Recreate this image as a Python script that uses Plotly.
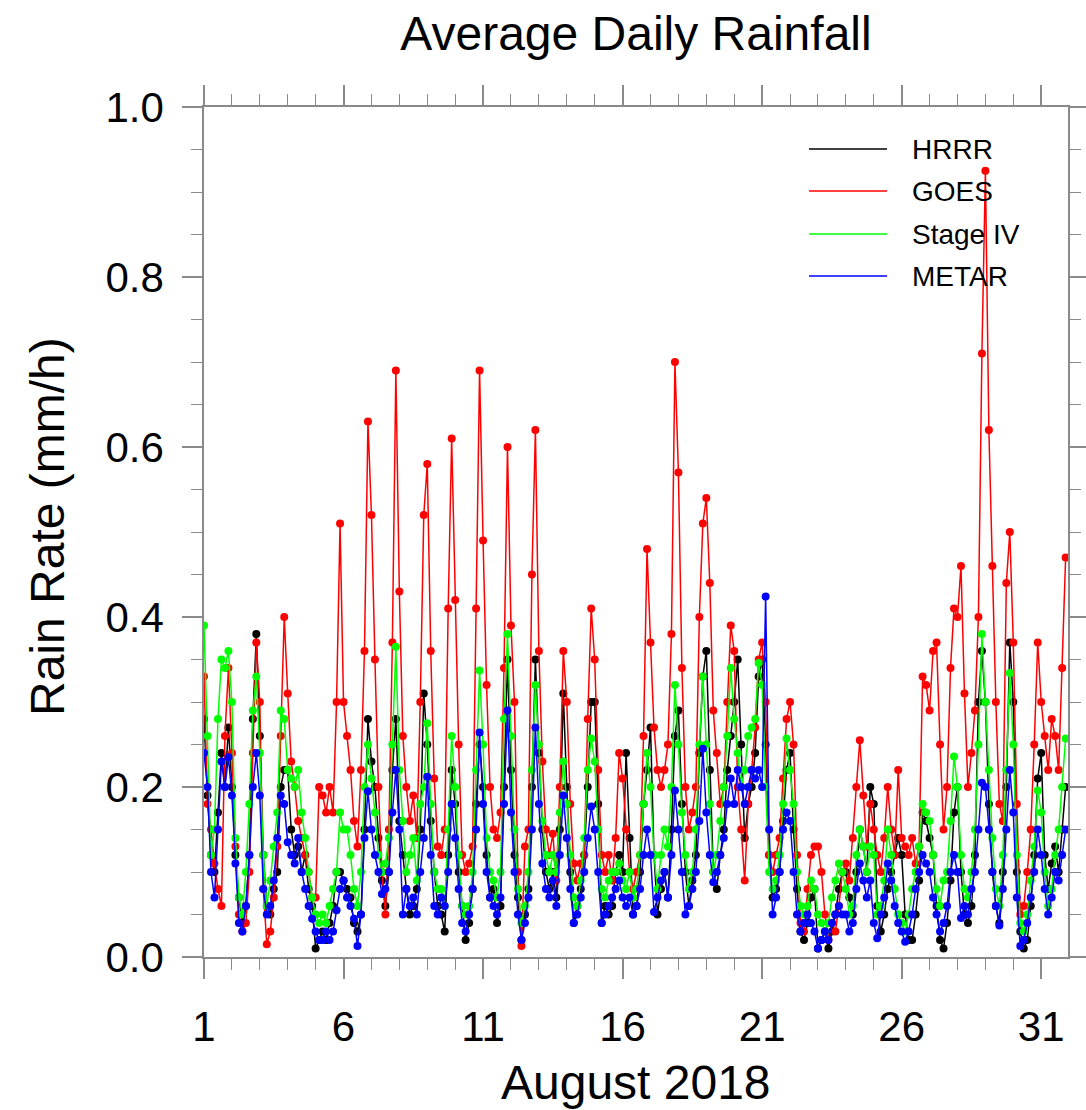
import plotly.graph_objects as go

# Three-hourly area-mean rain rate (mm/h), 1 Aug 00Z - 31 Aug 21Z 2018.
# Each row is one day: 00, 03, 06, 09, 12, 15, 18, 21 UTC.
hrrr = [
    0.28, 0.19, 0.12, 0.10, 0.17, 0.24, 0.20, 0.27,
    0.20, 0.12, 0.07, 0.04, 0.06, 0.12, 0.28, 0.38,
    0.26, 0.12, 0.06, 0.05, 0.08, 0.10, 0.20, 0.22,
    0.22, 0.15, 0.12, 0.13, 0.10, 0.12, 0.08, 0.06,
    0.01, 0.02, 0.03, 0.02, 0.04, 0.06, 0.10, 0.10,
    0.09, 0.08, 0.07, 0.04, 0.03, 0.05, 0.15, 0.28,
    0.23, 0.20, 0.14, 0.09, 0.06, 0.10, 0.22, 0.28,
    0.16, 0.12, 0.08, 0.05, 0.06, 0.08, 0.15, 0.31,
    0.25, 0.16, 0.10, 0.06, 0.05, 0.03, 0.12, 0.22,
    0.18, 0.10, 0.06, 0.02, 0.04, 0.08, 0.18, 0.25,
    0.20, 0.12, 0.07, 0.08, 0.04, 0.06, 0.20, 0.35,
    0.22, 0.12, 0.07, 0.02, 0.05, 0.08, 0.20, 0.35,
    0.24, 0.15, 0.10, 0.08, 0.10, 0.07, 0.15, 0.31,
    0.20, 0.10, 0.04, 0.06, 0.08, 0.12, 0.20, 0.30,
    0.30, 0.18, 0.04, 0.06, 0.05, 0.06, 0.10, 0.12,
    0.10, 0.24, 0.14, 0.05, 0.06, 0.10, 0.18, 0.22,
    0.27, 0.12, 0.05, 0.08, 0.10, 0.07, 0.15, 0.26,
    0.29, 0.18, 0.10, 0.06, 0.09, 0.12, 0.24, 0.33,
    0.36, 0.22, 0.10, 0.08, 0.12, 0.15, 0.22, 0.26,
    0.30, 0.35, 0.25, 0.14, 0.18, 0.20, 0.24, 0.33,
    0.35, 0.25, 0.12, 0.07, 0.08, 0.10, 0.16, 0.22,
    0.24, 0.15, 0.08, 0.03, 0.02, 0.04, 0.07, 0.08,
    0.01, 0.02, 0.03, 0.01, 0.03, 0.05, 0.08, 0.10,
    0.10, 0.07, 0.05, 0.10, 0.15, 0.13, 0.10, 0.20,
    0.18, 0.06, 0.03, 0.05, 0.08, 0.10, 0.12, 0.14,
    0.12, 0.05, 0.02, 0.02, 0.05, 0.09, 0.17, 0.16,
    0.14, 0.12, 0.06, 0.02, 0.01, 0.04, 0.09, 0.17,
    0.20, 0.10, 0.05, 0.04, 0.06, 0.12, 0.30, 0.36,
    0.30, 0.18, 0.10, 0.06, 0.04, 0.10, 0.20, 0.37,
    0.30, 0.10, 0.03, 0.01, 0.02, 0.06, 0.12, 0.21,
    0.24, 0.12, 0.08, 0.11, 0.13, 0.10, 0.15, 0.20,
]

goes = [
    0.33, 0.18, 0.15, 0.11, 0.08, 0.06, 0.26, 0.34,
    0.24, 0.13, 0.05, 0.03, 0.04, 0.10, 0.24, 0.37,
    0.30, 0.08, 0.015, 0.03, 0.07, 0.13, 0.26, 0.40,
    0.31, 0.23, 0.20, 0.16, 0.14, 0.12, 0.10, 0.07,
    0.07, 0.20, 0.19, 0.17, 0.20, 0.17, 0.30, 0.51,
    0.30, 0.26, 0.22, 0.16, 0.13, 0.22, 0.36, 0.63,
    0.52, 0.35, 0.20, 0.10, 0.05, 0.15, 0.37, 0.69,
    0.43, 0.26, 0.20, 0.16, 0.19, 0.14, 0.30, 0.52,
    0.58, 0.36, 0.21, 0.13, 0.12, 0.15, 0.41, 0.61,
    0.42, 0.25, 0.12, 0.10, 0.11, 0.13, 0.41, 0.69,
    0.49, 0.32, 0.20, 0.15, 0.14, 0.17, 0.34, 0.60,
    0.39, 0.30, 0.10, 0.013, 0.13, 0.15, 0.45, 0.62,
    0.36, 0.23, 0.15, 0.12, 0.145, 0.09, 0.20, 0.36,
    0.30, 0.18, 0.11, 0.09, 0.11, 0.12, 0.28, 0.41,
    0.35, 0.22, 0.12, 0.10, 0.12, 0.09, 0.14, 0.24,
    0.21, 0.15, 0.10, 0.08, 0.10, 0.12, 0.26, 0.48,
    0.37, 0.27, 0.22, 0.20, 0.22, 0.25, 0.38, 0.70,
    0.57, 0.34, 0.20, 0.15, 0.17, 0.20, 0.40, 0.51,
    0.54, 0.44, 0.29, 0.24, 0.18, 0.20, 0.30, 0.39,
    0.36, 0.20, 0.15, 0.09, 0.18, 0.22, 0.27, 0.35,
    0.37, 0.30, 0.12, 0.10, 0.12, 0.14, 0.21, 0.28,
    0.30, 0.25, 0.12, 0.04, 0.03, 0.08, 0.12, 0.13,
    0.13, 0.10, 0.05, 0.02, 0.04, 0.03, 0.06, 0.10,
    0.11, 0.09, 0.14, 0.20, 0.255, 0.19, 0.13, 0.18,
    0.15, 0.12, 0.10, 0.14, 0.20, 0.15, 0.12, 0.22,
    0.14, 0.13, 0.12, 0.14, 0.11, 0.13, 0.33, 0.32,
    0.29, 0.36, 0.37, 0.25, 0.15, 0.20, 0.34, 0.41,
    0.40, 0.46, 0.31, 0.20, 0.24, 0.29, 0.40, 0.71,
    0.925, 0.62, 0.46, 0.30, 0.18, 0.16, 0.44, 0.50,
    0.37, 0.18, 0.05, 0.06, 0.10, 0.15, 0.25, 0.37,
    0.30, 0.26, 0.22, 0.28, 0.26, 0.22, 0.34, 0.47,
]

stage4 = [
    0.39, 0.26, 0.12, 0.15, 0.28, 0.35, 0.34, 0.36,
    0.30, 0.14, 0.07, 0.05, 0.10, 0.18, 0.29, 0.33,
    0.24, 0.12, 0.06, 0.09, 0.13, 0.17, 0.29, 0.28,
    0.22, 0.21, 0.20, 0.22, 0.17, 0.14, 0.10, 0.07,
    0.05, 0.04, 0.05, 0.04, 0.06, 0.08, 0.10, 0.17,
    0.15, 0.15, 0.12, 0.08, 0.06, 0.10, 0.20, 0.25,
    0.21, 0.17, 0.12, 0.10, 0.11, 0.14, 0.25, 0.365,
    0.22, 0.16, 0.10, 0.12, 0.14, 0.09, 0.18, 0.20,
    0.275, 0.18, 0.10, 0.08, 0.08, 0.06, 0.15, 0.26,
    0.20, 0.12, 0.06, 0.05, 0.06, 0.10, 0.22, 0.337,
    0.25, 0.14, 0.10, 0.09, 0.07, 0.10, 0.28, 0.38,
    0.26, 0.15, 0.08, 0.04, 0.06, 0.10, 0.22, 0.32,
    0.25, 0.16, 0.12, 0.10, 0.12, 0.10, 0.17, 0.23,
    0.18, 0.12, 0.07, 0.06, 0.09, 0.14, 0.22, 0.257,
    0.23, 0.15, 0.08, 0.07, 0.09, 0.10, 0.10, 0.11,
    0.09, 0.08, 0.10, 0.07, 0.08, 0.12, 0.18, 0.24,
    0.20, 0.12, 0.08, 0.12, 0.15, 0.13, 0.20, 0.32,
    0.25, 0.17, 0.12, 0.08, 0.10, 0.15, 0.25, 0.33,
    0.25, 0.18, 0.10, 0.12, 0.16, 0.20, 0.26, 0.34,
    0.28, 0.24, 0.20, 0.22, 0.26, 0.27, 0.28, 0.346,
    0.32, 0.20, 0.10, 0.08, 0.09, 0.12, 0.18, 0.257,
    0.22, 0.18, 0.10, 0.06, 0.05, 0.06, 0.09, 0.08,
    0.05, 0.04, 0.03, 0.04, 0.07, 0.09, 0.11, 0.10,
    0.08, 0.05, 0.06, 0.12, 0.15, 0.13, 0.10, 0.13,
    0.12, 0.05, 0.06, 0.09, 0.15, 0.12, 0.08, 0.05,
    0.04, 0.03, 0.05, 0.08, 0.10, 0.13, 0.18, 0.17,
    0.16, 0.12, 0.08, 0.06, 0.09, 0.10, 0.16, 0.236,
    0.20, 0.12, 0.08, 0.07, 0.10, 0.15, 0.25, 0.38,
    0.30, 0.22, 0.14, 0.08, 0.06, 0.12, 0.22, 0.334,
    0.25, 0.12, 0.04, 0.03, 0.05, 0.09, 0.13, 0.196,
    0.17, 0.10, 0.06, 0.08, 0.12, 0.15, 0.20, 0.257,
]

metar = [
    0.24, 0.20, 0.10, 0.07, 0.15, 0.23, 0.20, 0.235,
    0.19, 0.11, 0.04, 0.03, 0.06, 0.12, 0.20, 0.24,
    0.19, 0.08, 0.05, 0.06, 0.09, 0.14, 0.19, 0.18,
    0.135, 0.12, 0.11, 0.14, 0.10, 0.08, 0.06, 0.045,
    0.03, 0.02, 0.02, 0.03, 0.02, 0.03, 0.055, 0.08,
    0.09, 0.07, 0.06, 0.045, 0.013, 0.05, 0.14, 0.195,
    0.15, 0.12, 0.10, 0.074, 0.08, 0.10, 0.17, 0.22,
    0.15, 0.05, 0.08, 0.06, 0.07, 0.05, 0.10, 0.14,
    0.212, 0.12, 0.06, 0.05, 0.07, 0.06, 0.10, 0.18,
    0.14, 0.08, 0.04, 0.03, 0.05, 0.08, 0.15, 0.264,
    0.18, 0.10, 0.07, 0.06, 0.05, 0.07, 0.18, 0.29,
    0.17, 0.10, 0.05, 0.02, 0.04, 0.07, 0.15, 0.27,
    0.18, 0.11, 0.08, 0.07, 0.09, 0.06, 0.12, 0.19,
    0.14, 0.08, 0.04, 0.05, 0.07, 0.10, 0.14, 0.177,
    0.15, 0.10, 0.04, 0.05, 0.06, 0.07, 0.08, 0.09,
    0.07, 0.06, 0.07, 0.05, 0.06, 0.08, 0.12, 0.15,
    0.12, 0.053, 0.07, 0.09, 0.10, 0.07, 0.12, 0.196,
    0.15, 0.10, 0.05, 0.06, 0.08, 0.10, 0.16, 0.245,
    0.17, 0.12, 0.088, 0.10, 0.12, 0.14, 0.18, 0.21,
    0.18, 0.22, 0.20, 0.18, 0.20, 0.22, 0.21, 0.22,
    0.20, 0.424, 0.15, 0.05, 0.07, 0.10, 0.15, 0.17,
    0.16, 0.10, 0.05, 0.03, 0.04, 0.05, 0.04, 0.03,
    0.01, 0.02, 0.03, 0.02, 0.04, 0.05, 0.06, 0.05,
    0.05, 0.03, 0.04, 0.08, 0.11, 0.09, 0.07, 0.09,
    0.04, 0.022, 0.05, 0.07, 0.11, 0.09, 0.06, 0.04,
    0.03, 0.018, 0.03, 0.05, 0.08, 0.10, 0.12, 0.11,
    0.10, 0.07, 0.05, 0.03, 0.04, 0.06, 0.10, 0.12,
    0.10, 0.046, 0.06, 0.05, 0.08, 0.10, 0.15, 0.205,
    0.20, 0.15, 0.10, 0.06, 0.037, 0.08, 0.15, 0.22,
    0.17, 0.07, 0.013, 0.02, 0.04, 0.07, 0.10, 0.15,
    0.12, 0.08, 0.05, 0.07, 0.10, 0.09, 0.12, 0.15,
]

series_names = ["HRRR", "GOES", "Stage IV", "METAR"]
series_colors = ["#000000", "#ff0000", "#00ff00", "#0000ff"]
day_ticks = [1, 6, 11, 16, 21, 26, 31]
rate_ticks = [0.0, 0.2, 0.4, 0.6, 0.8, 1.0]

# time axis in fractional day of month (3-hour steps)
days = [1 + i / 8 for i in range(len(goes))]

FONT = "Liberation Sans, Arial, Helvetica, sans-serif"
FRAME = "#8a8a8a"

fig = go.Figure()
for name, color, vals in zip(series_names, series_colors, [hrrr, goes, stage4, metar]):
    fig.add_trace(go.Scatter(
        x=days, y=vals, name=name, mode="lines+markers",
        line=dict(color=color, width=1.5),
        marker=dict(color=color, size=8, line=dict(width=0)),
        showlegend=False,
    ))

axis_common = dict(
    showgrid=False, zeroline=False, showline=True, linecolor=FRAME, linewidth=1.5,
    mirror="ticks", ticks="outside", tickcolor=FRAME, tickwidth=1.5, ticklen=20,
    tickfont=dict(family=FONT, size=42, color="#000"), automargin=False,
)

fig.update_xaxes(
    range=[1, 31.96], tickvals=day_ticks, ticktext=[str(d) for d in day_ticks],
    minor=dict(dtick=1, tick0=1, ticks="outside", ticklen=11, tickcolor=FRAME, tickwidth=1.2),
    ticklabelstandoff=12,
    **axis_common,
)
fig.update_yaxes(
    range=[0, 1.0], tickvals=rate_ticks, ticktext=[f"{v:.1f}" for v in rate_ticks],
    minor=dict(dtick=0.05, tick0=0, ticks="outside", ticklen=11, tickcolor=FRAME, tickwidth=1.2),
    ticklabelstandoff=10,
    **axis_common,
)

# legend drawn as line samples with labels in the upper right
legend_rows = [149, 191, 234, 276]
H = 850.0
W = 864.0
for name, color, ypx in zip(series_names, series_colors, legend_rows):
    yp = (957 - ypx) / H
    fig.add_shape(type="line", xref="paper", yref="paper",
                  x0=(809 - 204) / W, x1=(887 - 204) / W, y0=yp, y1=yp,
                  line=dict(color=color, width=1.3))
    fig.add_annotation(xref="paper", yref="paper", x=(910 - 204) / W, y=yp,
                       text=name, showarrow=False, xanchor="left", yanchor="middle",
                       font=dict(family=FONT, size=28, color="#000"))

fig.add_annotation(xref="paper", yref="paper", x=0.5, y=(957 - 1082) / H,
                   text="August 2018", showarrow=False, xanchor="center", yanchor="middle",
                   font=dict(family=FONT, size=48, color="#000"))
fig.add_annotation(xref="paper", yref="paper", x=(47 - 204) / W, y=(957 - 527) / H,
                   text="Rain Rate (mm/h)", showarrow=False, textangle=-90,
                   xanchor="center", yanchor="middle",
                   font=dict(family=FONT, size=48, color="#000"))

fig.update_layout(
    width=1086, height=1110,
    margin=dict(l=204, r=18, t=107, b=153),
    paper_bgcolor="#ffffff", plot_bgcolor="#ffffff",
    title=dict(text="Average Daily Rainfall", x=0.5, xref="paper", xanchor="center",
               y=1 - 33 / 1110, yref="container", yanchor="middle",
               font=dict(family=FONT, size=48, color="#000")),
)

fig.write_html("out.html")
